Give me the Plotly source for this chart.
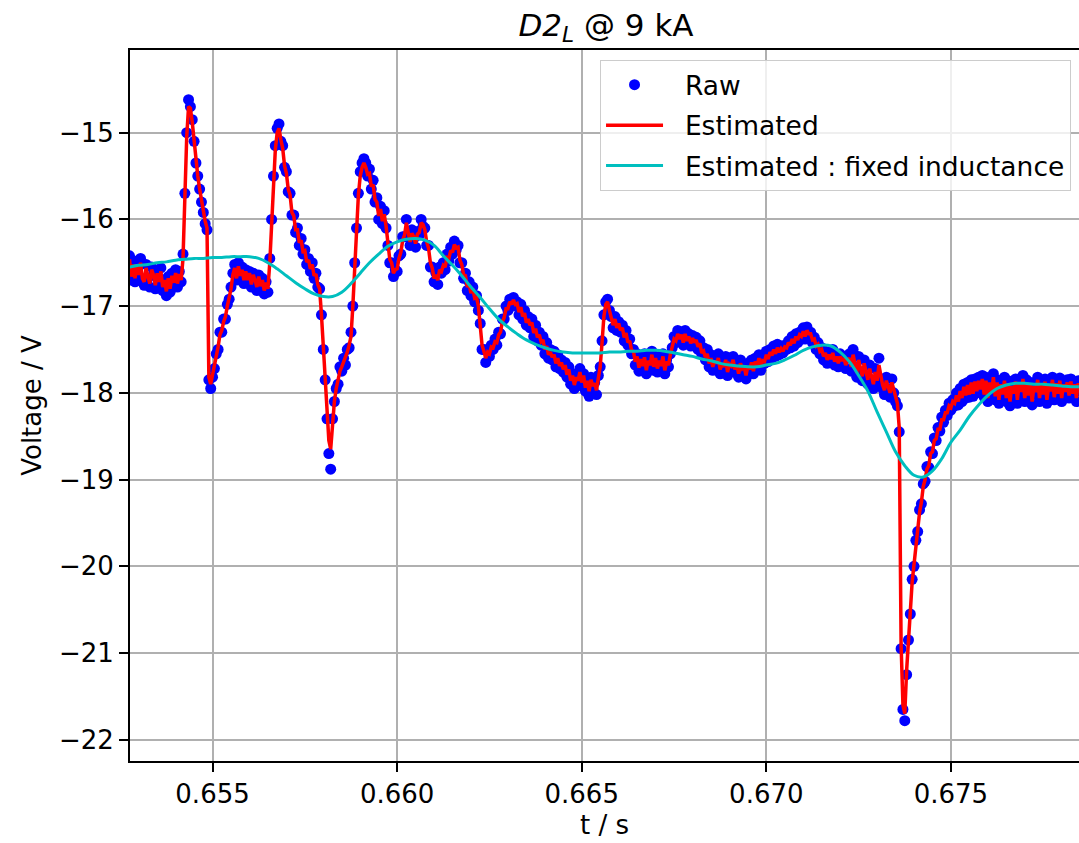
import plotly.graph_objects as go

# ---- data ----
T_START = 0.65275      # s, time of first raw sample
T_STEP = 0.00005       # s, raw sampling interval

RAW = [
    -16.42, -16.7, -16.5, -16.72, -16.48, -16.66, -16.45, -16.7, -16.76, -16.52,
    -16.68, -16.78, -16.55, -16.64, -16.8, -16.6, -16.74, -16.56, -16.82, -16.7,
    -16.88, -16.66, -16.84, -16.62, -16.76, -16.58, -16.78, -16.6, -16.72,
    -16.4, -15.7, -15.0, -14.62, -14.7, -14.85, -15.1, -15.35, -15.5, -15.65,
    -15.8, -15.92, -16.05, -16.12,
    -17.85, -17.95, -17.82, -17.72, -17.55, -17.5, -17.3, -17.3, -17.15, -17.15,
    -16.98, -16.92, -16.78,
    -16.62, -16.52, -16.7, -16.5, -16.66, -16.55, -16.74, -16.58, -16.72, -16.6,
    -16.78, -16.62, -16.7, -16.82, -16.64, -16.8, -16.68, -16.86, -16.72, -16.84,
    -16.45, -16.0, -15.5, -15.15, -14.95, -14.9, -15.1, -15.15, -15.4, -15.45,
    -15.68, -15.7, -15.95, -15.95, -16.15, -16.1, -16.3, -16.22, -16.4, -16.35,
    -16.52, -16.45, -16.6, -16.5, -16.68, -16.62, -16.78, -16.8,
    -17.1, -17.5, -17.85, -18.3, -18.7, -18.88, -18.3, -18.1, -17.95,
    -17.9, -17.7, -17.75, -17.6, -17.68, -17.5, -17.48, -17.3, -17.0, -16.5,
    -16.1, -15.7, -15.45, -15.35, -15.3, -15.35,
    -15.5, -15.42, -15.65, -15.55, -15.8, -15.75, -16.0, -15.85, -16.05, -15.9,
    -16.1, -16.3, -16.5, -16.5, -16.66, -16.58, -16.6, -16.42, -16.4, -16.2,
    -16.2,
    -16.0, -16.2, -16.3, -16.12, -16.22, -16.32, -16.14, -16.18, -16.0, -16.08,
    -16.1, -16.3,
    -16.3, -16.55, -16.55, -16.72, -16.62, -16.75, -16.55, -16.62, -16.5, -16.58,
    -16.4, -16.48, -16.32, -16.4, -16.25, -16.35, -16.3,
    -16.5, -16.5, -16.68, -16.62, -16.82, -16.72, -16.88, -16.78, -16.95, -16.88,
    -17.05,
    -17.2, -17.5, -17.5, -17.65, -17.5, -17.58, -17.45, -17.5, -17.38, -17.45,
    -17.3,
    -17.32, -17.15, -17.15, -17.0, -17.05, -16.92, -17.0, -16.9, -17.0, -16.95,
    -17.1, -16.98, -17.15, -17.05, -17.22, -17.12, -17.25, -17.15, -17.35, -17.22,
    -17.4, -17.3, -17.45, -17.35, -17.55, -17.42, -17.6, -17.5, -17.62, -17.52,
    -17.7, -17.56, -17.72, -17.62, -17.76, -17.65,
    -17.82, -17.7, -17.9, -17.78, -17.95, -17.8, -17.88, -17.72, -17.92, -17.78,
    -17.98, -17.85, -18.04, -17.82, -17.95, -17.88, -18.02, -17.8,
    -17.7, -17.4, -17.1, -16.95, -16.92, -17.05,
    -17.12, -17.25, -17.12, -17.28, -17.18, -17.3, -17.22, -17.4, -17.28, -17.45,
    -17.38, -17.55,
    -17.5, -17.68, -17.55, -17.75, -17.58, -17.72, -17.55, -17.78, -17.6, -17.7,
    -17.52, -17.74, -17.58, -17.76, -17.6, -17.72, -17.55, -17.78, -17.62, -17.7,
    -17.55, -17.48, -17.35, -17.42, -17.28, -17.4, -17.3, -17.45, -17.28, -17.42,
    -17.32, -17.46, -17.34, -17.44, -17.36, -17.5, -17.4,
    -17.55, -17.48, -17.62, -17.5, -17.7, -17.56, -17.74, -17.6, -17.68, -17.55,
    -17.78, -17.62, -17.72, -17.58, -17.8, -17.64, -17.7, -17.58, -17.76, -17.66,
    -17.82, -17.62, -17.74, -17.68, -17.84, -17.66, -17.75, -17.62, -17.78, -17.6,
    -17.7, -17.56, -17.74, -17.6, -17.66, -17.52, -17.64, -17.5, -17.6, -17.46,
    -17.58, -17.44, -17.56, -17.46, -17.54,
    -17.45, -17.5, -17.4, -17.48, -17.35, -17.46, -17.32, -17.42, -17.3, -17.38,
    -17.25, -17.38, -17.24, -17.34, -17.3, -17.42, -17.36, -17.5, -17.42, -17.55,
    -17.48, -17.62, -17.52, -17.66, -17.54, -17.64, -17.5, -17.68, -17.56, -17.7,
    -17.55, -17.66, -17.58, -17.72, -17.6,
    -17.55, -17.75, -17.5, -17.7, -17.82, -17.58, -17.76, -17.86, -17.62, -17.8,
    -17.9, -17.68, -17.85, -17.95, -17.72, -17.9, -17.6, -17.85, -17.95, -18.02,
    -17.82, -17.96, -18.05, -17.84, -18.0, -18.1,
    -18.15, -18.45, -20.95, -21.65, -21.78,
    -21.25, -20.85, -20.55, -20.15, -20.0, -19.7, -19.6, -19.35, -19.28, -19.05,
    -19.02, -18.85, -18.86, -18.68, -18.7, -18.52, -18.55, -18.4, -18.44, -18.28,
    -18.34, -18.2, -18.26, -18.12, -18.2, -18.08, -18.15, -18.0, -18.14, -17.95,
    -18.1, -17.9, -18.06, -17.88, -18.05, -17.85, -18.04, -17.84, -18.0, -17.82,
    -17.98, -17.8, -18.05, -17.82, -18.1, -17.85, -18.02, -17.78, -18.08, -17.85,
    -18.12, -17.88, -18.05, -17.82, -18.1, -17.86, -18.15, -17.9, -18.04, -17.84,
    -18.12, -17.88, -18.02, -17.8, -18.1, -17.85, -18.06, -17.88, -18.14, -17.9,
    -18.02, -17.82, -18.1, -17.86, -18.05, -17.84, -18.12, -17.9, -18.0, -17.82,
    -18.08, -17.86, -18.04, -17.83, -18.1, -17.88, -18.02, -17.85, -18.06, -17.84,
    -18.04, -17.88, -18.1, -17.86, -17.98,
]

ESTIMATED = [
    -16.46, -16.66, -16.52, -16.68, -16.52, -16.64, -16.5, -16.68, -16.72, -16.56,
    -16.66, -16.74, -16.58, -16.64, -16.76, -16.62, -16.72, -16.6, -16.78, -16.7,
    -16.83, -16.68, -16.8, -16.65, -16.73, -16.62, -16.74, -16.63, -16.7,
    -16.45, -15.75, -15.05, -14.7, -14.72, -14.88, -15.1, -15.33, -15.5, -15.65,
    -15.78, -15.9, -16.02, -16.1,
    -17.82, -17.9, -17.8, -17.7, -17.56, -17.47, -17.33, -17.28, -17.18, -17.12,
    -17.0, -16.9, -16.8,
    -16.64, -16.56, -16.68, -16.54, -16.65, -16.58, -16.7, -16.6, -16.7, -16.62,
    -16.75, -16.64, -16.7, -16.78, -16.66, -16.77, -16.7, -16.82, -16.73, -16.8,
    -16.5, -16.02, -15.55, -15.2, -15.0, -14.95, -15.08, -15.18, -15.38, -15.47,
    -15.65, -15.72, -15.92, -15.96, -16.12, -16.12, -16.27, -16.24, -16.37, -16.36,
    -16.49, -16.47, -16.57, -16.52, -16.65, -16.63, -16.75, -16.8,
    -17.1, -17.5, -17.85, -18.25, -18.55, -18.65, -18.3, -18.1, -17.95,
    -17.85, -17.75, -17.7, -17.65, -17.6, -17.53, -17.45, -17.35, -17.0, -16.5,
    -16.1, -15.72, -15.5, -15.4, -15.35, -15.4,
    -15.48, -15.47, -15.62, -15.6, -15.77, -15.8, -15.96, -15.88, -16.02, -15.94,
    -16.08, -16.28, -16.46, -16.5, -16.62, -16.58, -16.57, -16.45, -16.38, -16.24,
    -16.18,
    -16.04, -16.17, -16.26, -16.16, -16.2, -16.28, -16.17, -16.15, -16.04, -16.06,
    -16.12, -16.26,
    -16.33, -16.5, -16.56, -16.68, -16.64, -16.7, -16.58, -16.6, -16.53, -16.55,
    -16.44, -16.45, -16.36, -16.38, -16.29, -16.33, -16.32,
    -16.47, -16.52, -16.64, -16.65, -16.78, -16.75, -16.85, -16.8, -16.91, -16.9,
    -17.0,
    -17.2, -17.45, -17.52, -17.6, -17.53, -17.55, -17.47, -17.48, -17.41, -17.42,
    -17.33,
    -17.3, -17.18, -17.13, -17.03, -17.03, -16.95, -16.98, -16.93, -16.98, -16.97,
    -17.07, -17.01, -17.12, -17.08, -17.19, -17.15, -17.22, -17.19, -17.31, -17.26,
    -17.36, -17.33, -17.41, -17.39, -17.5, -17.46, -17.56, -17.53, -17.59, -17.56,
    -17.66, -17.6, -17.69, -17.65, -17.73, -17.68,
    -17.79, -17.73, -17.86, -17.8, -17.91, -17.82, -17.86, -17.76, -17.88, -17.8,
    -17.94, -17.86, -17.98, -17.85, -17.92, -17.89, -17.97, -17.83,
    -17.7, -17.42, -17.12, -16.98, -16.95, -17.05,
    -17.13, -17.22, -17.15, -17.25, -17.2, -17.28, -17.25, -17.36, -17.31, -17.42,
    -17.4, -17.51,
    -17.52, -17.64, -17.58, -17.71, -17.61, -17.69, -17.59, -17.74, -17.63, -17.68,
    -17.56, -17.7, -17.6, -17.72, -17.63, -17.69, -17.58, -17.74, -17.64, -17.68,
    -17.56, -17.48, -17.38, -17.4, -17.32, -17.38, -17.33, -17.42, -17.32, -17.4,
    -17.35, -17.43, -17.37, -17.42, -17.39, -17.47, -17.43,
    -17.54, -17.52, -17.59, -17.55, -17.66, -17.6, -17.7, -17.63, -17.66, -17.6,
    -17.73, -17.66, -17.7, -17.62, -17.76, -17.67, -17.69, -17.62, -17.73, -17.68,
    -17.78, -17.66, -17.72, -17.7, -17.8, -17.69, -17.73, -17.65, -17.75, -17.64,
    -17.68, -17.6, -17.7, -17.63, -17.64, -17.56, -17.61, -17.53, -17.57, -17.5,
    -17.55, -17.48, -17.53, -17.49, -17.52,
    -17.47, -17.48, -17.42, -17.45, -17.38, -17.43, -17.35, -17.39, -17.33, -17.35,
    -17.29, -17.35, -17.28, -17.32, -17.32, -17.39, -17.38, -17.46, -17.44, -17.52,
    -17.5, -17.58, -17.54, -17.62, -17.56, -17.61, -17.54, -17.64, -17.58, -17.66,
    -17.58, -17.63, -17.6, -17.68, -17.62,
    -17.6, -17.7, -17.56, -17.68, -17.77, -17.62, -17.73, -17.81, -17.66, -17.77,
    -17.85, -17.72, -17.82, -17.9, -17.76, -17.86, -17.68, -17.83, -17.91, -17.97,
    -17.86, -17.93, -18.0, -17.88, -17.97, -18.06,
    -18.12, -18.4, -20.9, -21.6, -21.7,
    -21.2, -20.85, -20.52, -20.18, -19.98, -19.73, -19.58, -19.38, -19.26, -19.08,
    -19.0, -18.88, -18.84, -18.7, -18.68, -18.55, -18.53, -18.42, -18.42, -18.31,
    -18.31, -18.23, -18.23, -18.15, -18.17, -18.1, -18.12, -18.03, -18.1, -17.98,
    -18.06, -17.93, -18.03, -17.91, -18.02, -17.88, -18.01, -17.87, -17.98, -17.86,
    -17.96, -17.84, -18.02, -17.86, -18.06, -17.88, -17.99, -17.82, -18.04, -17.88,
    -18.08, -17.9, -18.02, -17.86, -18.06, -17.89, -18.1, -17.92, -18.01, -17.87,
    -18.08, -17.9, -17.99, -17.84, -18.06, -17.88, -18.03, -17.9, -18.1, -17.92,
    -17.99, -17.85, -18.06, -17.89, -18.02, -17.87, -18.08, -17.92, -17.98, -17.85,
    -18.05, -17.89, -18.01, -17.86, -18.06, -17.9, -17.99, -17.88, -18.03, -17.87,
    -18.01, -17.9, -18.06, -17.89, -17.97,
]

FIT_T_START = 0.65275   # s
FIT_T_STEP = 0.00025    # s
FIXED_L = [
    -16.55, -16.53, -16.52, -16.50, -16.49, -16.47, -16.46, -16.45, -16.45, -16.44,
    -16.44, -16.43, -16.43, -16.43, -16.45, -16.50, -16.57, -16.65, -16.73, -16.80,
    -16.86, -16.89, -16.89, -16.84, -16.74, -16.62, -16.50, -16.40, -16.31, -16.26,
    -16.23, -16.22, -16.24, -16.30, -16.42, -16.53, -16.65, -16.78, -16.90, -17.03,
    -17.15, -17.24, -17.32, -17.39, -17.44, -17.48, -17.51, -17.53, -17.54, -17.54,
    -17.54, -17.54, -17.53, -17.53, -17.52, -17.52, -17.51, -17.51, -17.52, -17.54,
    -17.56, -17.58, -17.61, -17.63, -17.66, -17.68, -17.69, -17.70, -17.70, -17.68,
    -17.66, -17.62, -17.57, -17.51, -17.47, -17.45, -17.46, -17.53, -17.64, -17.80,
    -17.98, -18.22, -18.45, -18.68, -18.84, -18.95, -18.97, -18.90, -18.76, -18.57,
    -18.43, -18.27, -18.14, -18.03, -17.95, -17.91, -17.89, -17.89, -17.90, -17.90,
    -17.91, -17.92, -17.93, -17.93,
]

X_TICKS = [0.655, 0.660, 0.665, 0.670, 0.675]
X_TICK_LABELS = ["0.655", "0.660", "0.665", "0.670", "0.675"]
Y_TICKS = [-22, -21, -20, -19, -18, -17, -16, -15]
Y_TICK_LABELS = ["\u221222", "\u221221", "\u221220", "\u221219", "\u221218", "\u221217", "\u221216", "\u221215"]

FONT = "DejaVu Sans"
PAD = "\u00a0\u00a0"

fig = go.Figure()
fig.add_trace(go.Scatter(
    x0=T_START, dx=T_STEP, y=RAW, mode="markers", name=PAD + "Raw",
    marker=dict(color="#0000ff", size=11, line=dict(width=0)),
    legendgroup="raw",
))
fig.add_trace(go.Scatter(
    x0=T_START, dx=T_STEP, y=ESTIMATED, mode="lines", name=PAD + "Estimated",
    line=dict(color="#ff0000", width=3.5),
    legendgroup="est",
))
fig.add_trace(go.Scatter(
    x0=FIT_T_START, dx=FIT_T_STEP, y=FIXED_L, mode="lines",
    name=PAD + "Estimated : fixed inductance",
    line=dict(color="#00bfbf", width=3, shape="spline", smoothing=1.0),
    legendgroup="fix",
))

axis_common = dict(
    showline=True, linecolor="black", linewidth=2,
    ticks="outside", ticklen=9, tickwidth=2, tickcolor="black",
    showgrid=True, gridcolor="#b0b0b0", gridwidth=2,
    zeroline=False,
    tickfont=dict(family=FONT, size=26, color="black"),
)

fig.update_layout(
    width=1079, height=843,
    margin=dict(l=130, r=0, t=50, b=82),
    paper_bgcolor="white", plot_bgcolor="white",
    font=dict(family=FONT, size=26, color="black"),
    title=dict(
        text="<i>D2</i><sub><i>L</i></sub> @ 9 kA",
        x=0.5016, xref="paper", xanchor="center",
        y=1 - 25 / 843, yref="container", yanchor="middle",
        font=dict(family=FONT, size=31, color="black"),
    ),
    xaxis=dict(
        range=[0.652764, 0.678469], tickvals=X_TICKS, ticktext=X_TICK_LABELS,
        mirror=True,
        title=dict(text="t / s", font=dict(family=FONT, size=26), standoff=8),
        **axis_common,
    ),
    yaxis=dict(
        range=[-22.245, -14.047], tickvals=Y_TICKS, ticktext=Y_TICK_LABELS,
        title=dict(text="Voltage / V", font=dict(family=FONT, size=26), standoff=10),
        **axis_common,
    ),
    legend=dict(
        x=0.9916, xanchor="right", y=0.986, yanchor="top",
        bgcolor="rgba(255,255,255,0.8)", bordercolor="#cccccc", borderwidth=1,
        font=dict(family=FONT, size=26.5, color="black"),
        itemwidth=57, tracegroupgap=3,
    ),
    showlegend=True,
)

fig.write_html("out.html")
